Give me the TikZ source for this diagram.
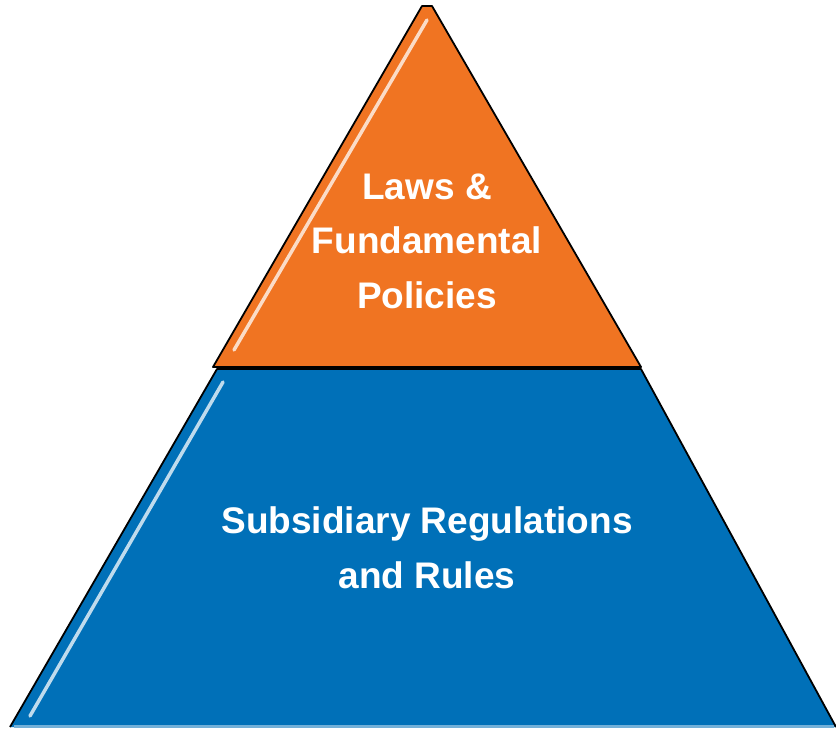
\documentclass[tikz,border=0pt]{standalone}
\usepackage{fontspec}
\setmainfont{Liberation Sans}
\definecolor{laworange}{HTML}{F07422}
\definecolor{ruleblue}{HTML}{0070B8}

\begin{document}
\begin{tikzpicture}[x=1pt,y=-1pt,
  edge/.style={black,line width=1.8pt,line join=round},
  gloss/.style={white,opacity=.75,line width=3.5pt,line cap=round},
  caption/.style={white,align=center,font=\fontsize{37}{54.5}\selectfont\bfseries}]
  \useasboundingbox (0,0) rectangle (836,729);
  % base tier
  \fill[ruleblue] (217,369) -- (641,369) -- (836,727) -- (10,727) -- cycle;
  \draw[ruleblue!55!white,line width=3pt] (14,726) -- (834,726);
  \draw[gloss] (223,382) -- (30,716);
  \draw[edge] (10,727) -- (217,369) -- (641,369) -- (836,727);
  % top tier
  \fill[laworange] (422,6) -- (432,6) -- (641,367) -- (213,367) -- cycle;
  \draw[gloss] (427,20) -- (234,350);
  \draw[edge] (213,367) -- (422,6) -- (432,6) -- (641,367) -- cycle;
  \node[caption] (laws) at (427,241) {Laws \&\\Fundamental\\Policies};
  \node[caption] (rules) at (427,548) {Subsidiary Regulations\\and Rules};
\end{tikzpicture}
\end{document}
